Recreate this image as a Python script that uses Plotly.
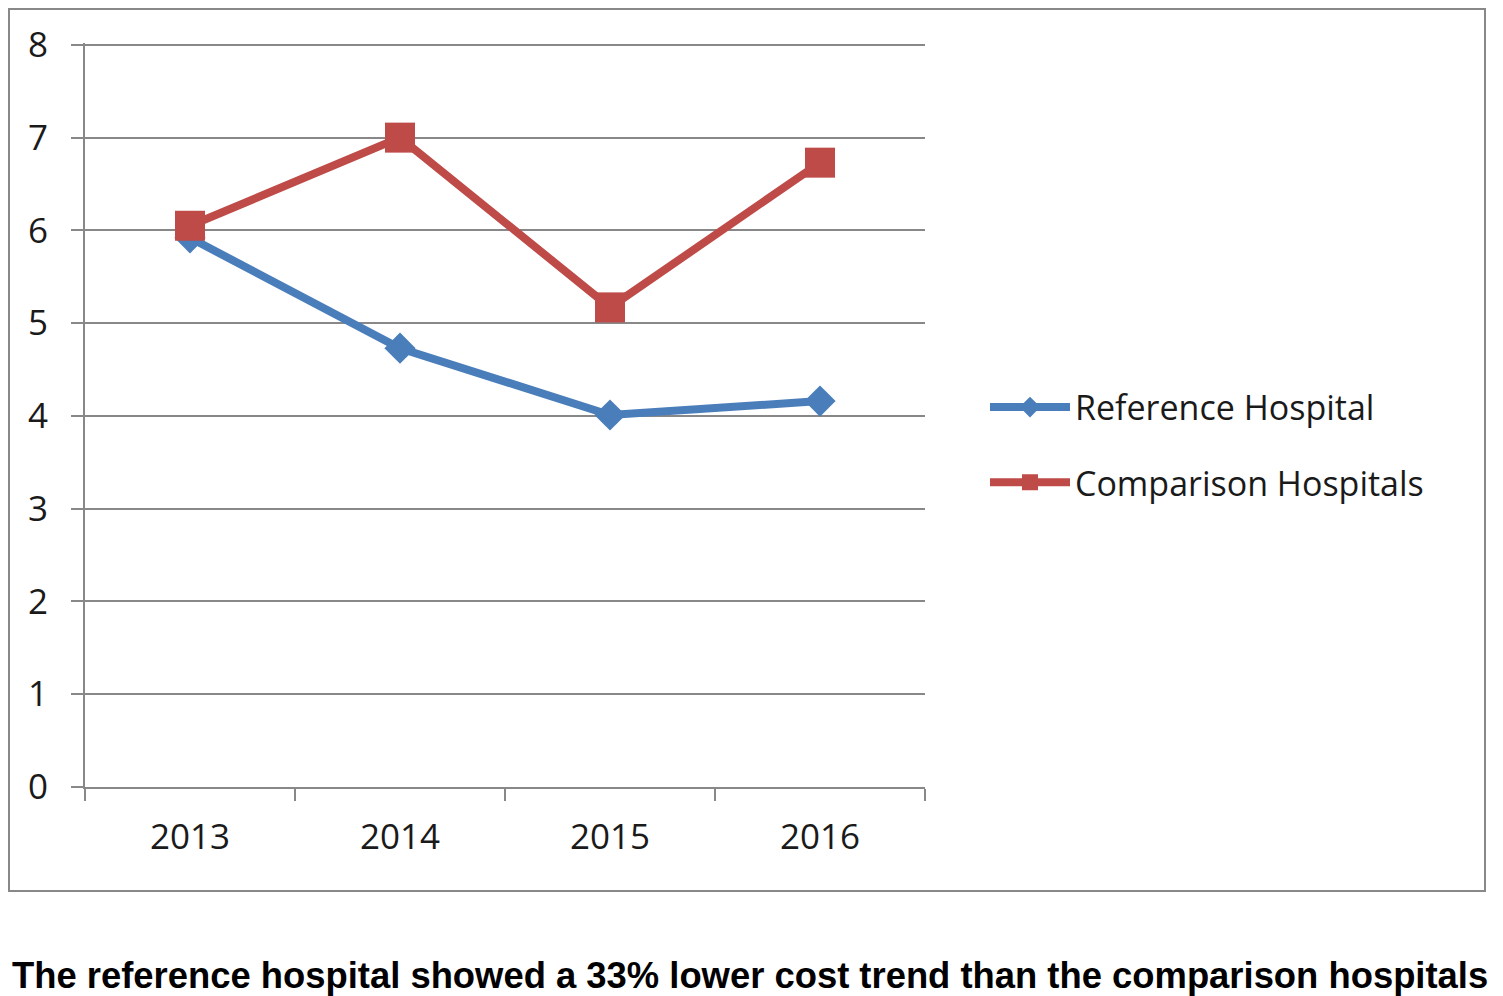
import plotly.graph_objects as go

# Data
years = ['2013', '2014', '2015', '2016']
reference_hospital = [5.92, 4.73, 4.01, 4.16]
comparison_hospitals = [6.05, 7.0, 5.17, 6.73]
y_ticks = [0, 1, 2, 3, 4, 5, 6, 7, 8]

# page has an 8px body margin, so the figure is a bit smaller than the window
W, H = 1495, 988
L, R, T, B = 77, 578, 35, 209
PW, PH = W - L - R, H - T - B

def px(xw):
    # window pixel -> paper x
    return (xw - 85) / PW

def py(yw):
    # window pixel -> paper y
    return (787 - yw) / PH

GREY = '#888888'
TEXT = '#1a1a1a'
TICK_FONT = dict(family='Open Sans, Noto Sans, sans-serif', size=35, color=TEXT)

fig = go.Figure()

fig.add_trace(go.Scatter(
    x=years, y=reference_hospital, name='Reference Hospital',
    mode='lines+markers', legendgroup='ref',
    line=dict(color='#4a7ebb', width=8),
    marker=dict(symbol='diamond', size=24, color='#4a7ebb'),
))
fig.add_trace(go.Scatter(
    x=years, y=comparison_hospitals, name='Comparison Hospitals',
    mode='lines+markers', legendgroup='comp',
    line=dict(color='#be4b48', width=8),
    marker=dict(symbol='square', size=30, color='#be4b48'),
))

fig.update_layout(
    width=W, height=H,
    margin=dict(l=L, r=R, t=T, b=B, autoexpand=False),
    paper_bgcolor='white', plot_bgcolor='white',
    showlegend=True,
    legend=dict(
        x=px(985), y=py(445), xanchor='left', yanchor='middle',
        font=dict(family='Open Sans, Noto Sans, sans-serif', size=34, color=TEXT),
        tracegroupgap=28, itemwidth=80, bgcolor='rgba(0,0,0,0)',
    ),
    xaxis=dict(
        type='category', range=[-0.5, 3.5], automargin=False,
        showline=True, linecolor=GREY, linewidth=2,
        ticks='outside', tickson='boundaries', ticklen=12, tickwidth=2, tickcolor=GREY,
        showgrid=False, tickfont=TICK_FONT, ticklabelstandoff=18,
    ),
    yaxis=dict(
        range=[0, 8.02], tickvals=y_ticks, automargin=False,
        showline=True, linecolor=GREY, linewidth=2,
        ticks='outside', ticklen=12, tickwidth=2, tickcolor=GREY,
        showgrid=True, gridcolor=GREY, gridwidth=2, zeroline=False,
        tickfont=TICK_FONT, ticklabelstandoff=16,
    ),
    shapes=[dict(
        type='rect', xref='paper', yref='paper',
        x0=px(9), x1=px(1485), y0=py(891), y1=py(9),
        line=dict(color=GREY, width=2), fillcolor='rgba(0,0,0,0)', layer='below',
    )],
    annotations=[dict(
        text='<b>The reference hospital showed a 33% lower cost trend than the comparison hospitals</b>',
        xref='paper', yref='paper', x=px(750), y=py(975), xanchor='center', yanchor='middle',
        showarrow=False,
        font=dict(family='Liberation Sans, Arial, sans-serif', size=36.4, color='black'),
    )],
)

fig.write_html('out.html')
